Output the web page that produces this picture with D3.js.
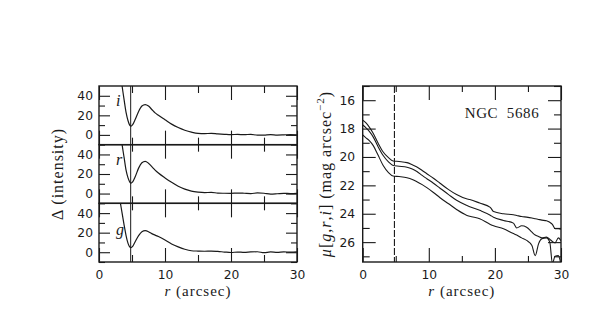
<!DOCTYPE html>
<html>
<head>
<meta charset="utf-8">
<script src="https://cdn.jsdelivr.net/npm/d3@7"></script>
<style>
  body { margin: 0; background: #fff; }
</style>
</head>
<body>
<div id="chart"></div>
<script>
// ---- datos ----
// panel izquierdo: Delta (intensity) vs r
var radius = [3.2, 3.5, 3.8, 4.1, 4.4, 4.65, 4.85, 5.1, 5.5, 6.0, 6.5, 7.0, 7.5, 8.0, 8.5, 9.0,
              10, 11, 12, 13, 14, 15, 16, 17, 18, 19, 20, 21, 22, 23, 24, 25, 26, 27, 28, 29, 30];
var deltaI = [66, 50, 36, 23, 14.5, 10, 9, 10.5, 16, 24, 29.5, 31, 29.5, 26, 22.5, 20,
              15.5, 11, 7.5, 4.8, 2.8, 1.5, 1.3, 1.5, 1.0, 0.6, 0.3, 0.5, 0.2, 0.6, -0.3, -0.2, 0.2, -0.2, 0, 0.3, 0];
var deltaR = [66, 50, 37, 24, 16, 12, 10.7, 12, 17.5, 26, 31.5, 33, 31, 27.5, 24, 21,
              16, 11.5, 7.5, 4.5, 2.5, 1.5, 1.0, 1.2, 0.5, 0.3, 0.2, 0.5, 0.3, 0.0, 0.6, 0.3, -0.5, -0.2, 0.2, 0.0, 0.2];
var deltaG = [52, 40, 28, 17, 9, 5.5, 4.7, 6, 11, 17, 21, 22, 21, 19, 17.5, 16,
              12.5, 8.5, 5.5, 3.0, 1.5, 1.2, 1.0, 1.2, 0.8, 0.2, -0.3, 0.2, -0.2, 0.3, 0.5, -0.5, 0.3, -0.2, 0.4, 0.0, 0.3];
var bandNames = ["i", "r", "g"];

// panel derecho: perfiles de brillo superficial
var profRadius = [0, 0.5, 1, 1.6, 2.3, 3.1, 3.9, 4.6, 5.5, 6.7, 7.5, 8.2, 9.0, 9.7, 10.7, 11.7, 13, 14.2,
                  15.7, 16.2, 17.7, 19.3, 19.8, 21.3, 22.8, 23.3, 24.05, 24.8, 25.6, 26.1, 26.6, 27.1, 27.8,
                  28.3, 28.7, 29.1, 29.6, 30];
var muI = [17.4, 17.6, 17.9, 18.35, 19.0, 19.65, 20.05, 20.28, 20.32, 20.4, 20.55, 20.7, 20.95, 21.18, 21.5, 21.85, 22.3, 22.65,
           22.95, 23.0, 23.25, 23.55, 23.85, 24.0, 24.07, 24.12, 24.2, 24.24, 24.3, 24.35, 24.4, 24.45, 24.5,
           24.6, 24.75, 25.05, 25.05, 25.1];
var muR = [17.75, 17.95, 18.2, 18.6, 19.25, 19.9, 20.35, 20.6, 20.65, 20.72, 20.85, 21.02, 21.3, 21.53, 21.85, 22.2, 22.65, 23.05,
           23.4, 23.5, 23.76, 24.1, 24.25, 24.47, 24.66, 25.0, 24.85, 24.95, 25.3, 25.5, 25.6, 25.7, 25.65,
           25.8, 25.95, 26.05, 25.7, 25.9];
var muG = [18.45, 18.65, 18.85, 19.2, 19.85, 20.6, 21.1, 21.34, 21.38, 21.46, 21.58, 21.74, 21.95, 22.16, 22.5, 22.87, 23.3, 23.7,
           24.1, 24.18, 24.35, 24.75, 24.85, 25.06, 25.4, 25.5, 25.7, 25.88, 26.24, 26.95, 26.12, 25.77, 25.7,
           26.0, 27.5, 27.0, 26.95, 27.6];

var rMarker = 4.8;            // linea vertical
var rTicks = [0, 10, 20, 30];
var rMinor = [5, 15, 25];
var deltaTicks = [0, 20, 40];
var deltaMinor = [-10, 10, 30];
var muTicks = [16, 18, 20, 22, 24, 26];
var muMinor = [15, 17, 19, 21, 23, 25, 27];
var galaxy = "NGC  5686";

var ink = "#1a1a1a";
var serif = "'Liberation Serif', 'DejaVu Serif', serif";
var sans = "'DejaVu Sans', sans-serif";

var svg = d3.select("#chart").append("svg")
    .attr("width", 598).attr("height", 318)
    .style("background", "#fff");

// ejes: ticks hacia adentro en los cuatro lados
function ticks(g, axis, tx, ty, labels) {
  var a = g.append("g").attr("transform", "translate(" + tx + "," + ty + ")").call(axis);
  a.select(".domain").remove();
  a.attr("color", ink).attr("font-family", sans).attr("font-size", 12.3);
  a.selectAll("line").attr("stroke-width", 1.1);
  if (!labels) a.selectAll("text").remove();
  return a;
}

function xTicks(g, x, y0, y1, majLen, minLen, labels) {
  var fmt = d3.format("d");
  ticks(g, d3.axisBottom(x).tickValues(rTicks).tickSize(-majLen).tickPadding(8).tickFormat(fmt), 0, y1, labels);
  ticks(g, d3.axisBottom(x).tickValues(rMinor).tickSize(-minLen).tickFormat(""), 0, y1, false);
  ticks(g, d3.axisTop(x).tickValues(rTicks).tickSize(-majLen).tickFormat(""), 0, y0, false);
  ticks(g, d3.axisTop(x).tickValues(rMinor).tickSize(-minLen).tickFormat(""), 0, y0, false);
}

// ---------- panel izquierdo ----------
var L = { x0: 99, x1: 297, y0: 86, y1: 262 };
var ph = (L.y1 - L.y0) / 3;
var xL = d3.scaleLinear().domain([0, 30]).range([L.x0, L.x1]);
var deltaSeries = [deltaI, deltaR, deltaG];

deltaSeries.forEach(function(vals, k) {
  var top = L.y0 + k * ph, bot = top + ph;
  var y = d3.scaleLinear().domain([-10, 50]).range([bot, top]);
  var g = svg.append("g");
  var fmt = d3.format("d");
  xTicks(g, xL, top, bot, 14, 7, k === 2);
  ticks(g, d3.axisLeft(y).tickValues(deltaTicks).tickSize(-11).tickPadding(6).tickFormat(fmt), L.x0, 0, true);
  ticks(g, d3.axisLeft(y).tickValues(deltaMinor).tickSize(-6).tickFormat(""), L.x0, 0, false);
  ticks(g, d3.axisRight(y).tickValues(deltaTicks).tickSize(-11).tickFormat(""), L.x1, 0, false);
  ticks(g, d3.axisRight(y).tickValues(deltaMinor).tickSize(-6).tickFormat(""), L.x1, 0, false);

  svg.append("clipPath").attr("id", "clipL" + k).append("rect")
    .attr("x", L.x0).attr("y", top).attr("width", L.x1 - L.x0).attr("height", ph);

  var line = d3.line()
    .x(function(d, i) { return xL(radius[i]); })
    .y(function(d) { return y(d); })
    .curve(d3.curveMonotoneX);

  svg.append("path").datum(vals)
    .attr("clip-path", "url(#clipL" + k + ")")
    .attr("d", line)
    .attr("fill", "none").attr("stroke", ink).attr("stroke-width", 1.2);

  svg.append("text")
    .attr("x", L.x0 + 17).attr("y", top + (k === 2 ? 32 : 20))
    .attr("font-family", serif).attr("font-style", "italic").attr("font-size", 16)
    .attr("fill", ink).text(bandNames[k]);

  svg.append("rect").attr("x", L.x0).attr("y", top).attr("width", L.x1 - L.x0).attr("height", ph)
    .attr("fill", "none").attr("stroke", ink).attr("stroke-width", 1.4);
});

svg.append("line")
  .attr("x1", xL(rMarker)).attr("x2", xL(rMarker)).attr("y1", L.y0).attr("y2", L.y1)
  .attr("stroke", ink).attr("stroke-width", 1);

svg.append("text")
  .attr("transform", "translate(63," + (L.y0 + L.y1) / 2 + ") rotate(-90)")
  .attr("text-anchor", "middle").attr("font-family", serif).attr("font-size", 16)
  .attr("letter-spacing", 1).attr("fill", ink)
  .text("Δ (intensity)");

var xlab = svg.append("text")
  .attr("x", (L.x0 + L.x1) / 2).attr("y", 296)
  .attr("text-anchor", "middle").attr("font-family", serif).attr("font-size", 15)
  .attr("letter-spacing", 1).attr("fill", ink);
xlab.append("tspan").attr("font-style", "italic").text("r");
xlab.append("tspan").text(" (arcsec)");

// ---------- panel derecho ----------
var R = { x0: 362.7, x1: 561, y0: 86, y1: 262 };
var xR = d3.scaleLinear().domain([0, 30]).range([R.x0, R.x1]);
var yR = d3.scaleLinear().domain([15, 27.4]).range([R.y0, R.y1]);

var gR = svg.append("g");
var fmtR = d3.format("d");
xTicks(gR, xR, R.y0, R.y1, 14, 6, true);
ticks(gR, d3.axisLeft(yR).tickValues(muTicks).tickSize(-13).tickPadding(7.5).tickFormat(fmtR), R.x0, 0, true);
ticks(gR, d3.axisLeft(yR).tickValues(muMinor).tickSize(-7).tickFormat(""), R.x0, 0, false);
ticks(gR, d3.axisRight(yR).tickValues(muTicks).tickSize(-13).tickFormat(""), R.x1, 0, false);
ticks(gR, d3.axisRight(yR).tickValues(muMinor).tickSize(-7).tickFormat(""), R.x1, 0, false);

svg.append("clipPath").attr("id", "clipR").append("rect")
  .attr("x", R.x0).attr("y", R.y0).attr("width", R.x1 - R.x0).attr("height", R.y1 - R.y0);

var lineR = d3.line()
  .x(function(d, i) { return xR(profRadius[i]); })
  .y(function(d) { return yR(d); })
  .curve(d3.curveMonotoneX);

[muI, muR, muG].forEach(function(vals) {
  svg.append("path").datum(vals)
    .attr("clip-path", "url(#clipR)")
    .attr("d", lineR)
    .attr("fill", "none").attr("stroke", ink).attr("stroke-width", 1.1);
});

svg.append("line")
  .attr("x1", xR(rMarker)).attr("x2", xR(rMarker)).attr("y1", R.y0).attr("y2", R.y1)
  .attr("stroke", ink).attr("stroke-width", 1.1).attr("stroke-dasharray", "7,2");

svg.append("rect").attr("x", R.x0).attr("y", R.y0).attr("width", R.x1 - R.x0).attr("height", R.y1 - R.y0)
  .attr("fill", "none").attr("stroke", ink).attr("stroke-width", 1.4);

svg.append("text")
  .attr("x", 502).attr("y", 118)
  .attr("text-anchor", "middle").attr("font-family", serif).attr("font-size", 15)
  .attr("letter-spacing", 0.6).attr("fill", ink)
  .style("white-space", "pre")
  .text(galaxy);

var ylabR = svg.append("text")
  .attr("transform", "translate(331," + (R.y0 + R.y1) / 2 + ") rotate(-90)")
  .attr("text-anchor", "middle").attr("font-family", serif).attr("font-size", 16)
  .attr("letter-spacing", 1).attr("fill", ink);
ylabR.append("tspan").attr("font-style", "italic").text("μ");
ylabR.append("tspan").text("[");
ylabR.append("tspan").attr("font-style", "italic").text("g");
ylabR.append("tspan").text(",");
ylabR.append("tspan").attr("font-style", "italic").text("r");
ylabR.append("tspan").text(",");
ylabR.append("tspan").attr("font-style", "italic").text("i");
ylabR.append("tspan").text("] (mag arcsec");
ylabR.append("tspan").attr("font-size", 11).attr("dy", -7).text("−2");
ylabR.append("tspan").attr("dy", 7).text(")");

var xlabR = svg.append("text")
  .attr("x", (R.x0 + R.x1) / 2).attr("y", 296)
  .attr("text-anchor", "middle").attr("font-family", serif).attr("font-size", 15)
  .attr("letter-spacing", 1).attr("fill", ink);
xlabR.append("tspan").attr("font-style", "italic").text("r");
xlabR.append("tspan").text(" (arcsec)");
</script>
</body>
</html>
